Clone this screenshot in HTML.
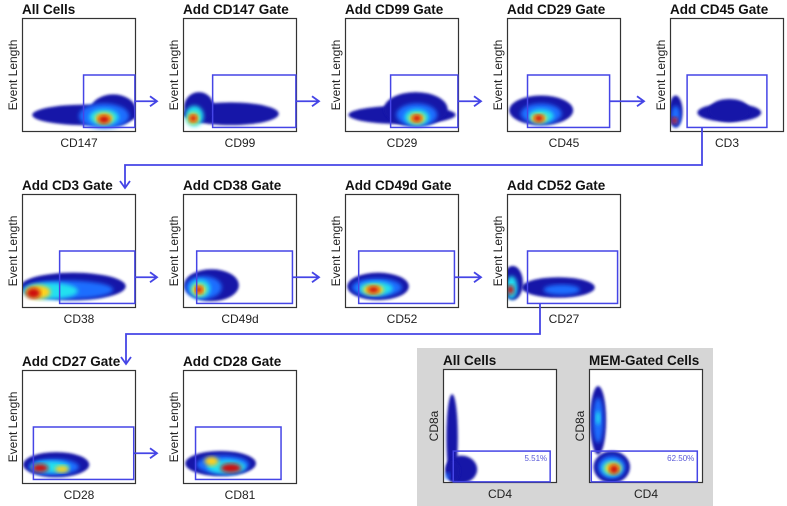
<!DOCTYPE html>
<html><head><meta charset="utf-8">
<style>
body{margin:0;background:#fff;}
svg{display:block;font-family:"Liberation Sans",Arial,sans-serif;}
</style></head>
<body>
<svg id="fig" width="787" height="506" viewBox="0 0 787 506">
<defs>
<filter id="blur" x="-20%" y="-20%" width="140%" height="140%"><feGaussianBlur stdDeviation="1.4"/></filter>
<filter id="blur2" x="-20%" y="-20%" width="140%" height="140%"><feGaussianBlur stdDeviation="2.2"/></filter>
</defs>
<rect x="417" y="348" width="296" height="158" fill="#d6d6d6"/>
</svg>
<script>
const titles=["All Cells","Add CD147 Gate","Add CD99 Gate","Add CD29 Gate","Add CD45 Gate","Add CD3 Gate","Add CD38 Gate","Add CD49d Gate","Add CD52 Gate","Add CD27 Gate","Add CD28 Gate","All Cells","MEM-Gated Cells"];
const xLabels=["CD147","CD99","CD29","CD45","CD3","CD38","CD49d","CD52","CD27","CD28","CD81","CD4","CD4"];
const yLabels=["Event Length","Event Length","Event Length","Event Length","Event Length","Event Length","Event Length","Event Length","Event Length","Event Length","Event Length","CD8a","CD8a"];
const gatePercents=["","","","","","","","","","","","5.51%","62.50%"];
// gate bounds as fraction of axis range [x0,x1,y0,y1] (y from bottom)
const gateX0=[0.54,0.26,0.40,0.18,0.15,0.33,0.12,0.12,0.18,0.10,0.11,0.09,0.02];
const gateX1=[0.99,0.99,0.99,0.90,0.85,0.99,0.96,0.96,0.97,0.98,0.86,0.94,0.95];
const gateY0=[0.04,0.04,0.04,0.04,0.04,0.04,0.04,0.04,0.04,0.04,0.04,0.01,0.01];
const gateY1=[0.50,0.50,0.50,0.50,0.50,0.50,0.50,0.50,0.50,0.50,0.50,0.28,0.28];
// density layers per panel: [cx, cy(from bottom), rx, ry, level]
const densities=[
 [[0.55,0.15,0.46,0.09,0],[0.80,0.19,0.20,0.14,0],[0.72,0.14,0.22,0.11,1],[0.72,0.13,0.13,0.07,2],[0.72,0.12,0.08,0.05,3],[0.72,0.11,0.05,0.035,4]],
 [[0.42,0.16,0.42,0.10,0],[0.14,0.22,0.13,0.13,0],[0.10,0.14,0.08,0.09,2],[0.09,0.12,0.05,0.05,3],[0.09,0.12,0.03,0.03,4]],
 [[0.50,0.15,0.47,0.08,0],[0.62,0.20,0.28,0.15,0],[0.63,0.15,0.18,0.10,1],[0.63,0.13,0.11,0.07,2],[0.63,0.12,0.07,0.045,3],[0.63,0.12,0.04,0.03,4]],
 [[0.30,0.19,0.28,0.13,0],[0.30,0.16,0.18,0.09,1],[0.30,0.14,0.11,0.06,2],[0.28,0.12,0.07,0.04,3],[0.28,0.12,0.04,0.03,4]],
 [[0.05,0.18,0.06,0.14,0],[0.05,0.14,0.04,0.09,1],[0.04,0.10,0.025,0.03,4],[0.52,0.17,0.28,0.08,0],[0.52,0.19,0.18,0.10,0]],
 [[0.45,0.19,0.46,0.12,0],[0.40,0.16,0.40,0.08,1],[0.25,0.15,0.24,0.07,2],[0.14,0.14,0.11,0.06,3],[0.10,0.13,0.06,0.045,4]],
 [[0.25,0.20,0.24,0.14,0],[0.18,0.18,0.16,0.10,1],[0.15,0.17,0.09,0.08,2],[0.14,0.16,0.06,0.05,3],[0.14,0.16,0.03,0.03,4]],
 [[0.29,0.19,0.27,0.12,0],[0.28,0.18,0.22,0.08,1],[0.27,0.17,0.15,0.06,2],[0.25,0.16,0.09,0.045,3],[0.25,0.16,0.05,0.03,4]],
 [[0.05,0.22,0.09,0.15,0],[0.04,0.18,0.05,0.10,2],[0.03,0.16,0.03,0.04,4],[0.45,0.18,0.32,0.09,0],[0.48,0.16,0.16,0.045,1]],
 [[0.30,0.17,0.29,0.11,0],[0.28,0.15,0.22,0.07,1],[0.25,0.15,0.17,0.05,2],[0.16,0.14,0.07,0.035,4],[0.35,0.13,0.06,0.03,3]],
 [[0.33,0.18,0.31,0.11,0],[0.35,0.17,0.23,0.08,1],[0.38,0.15,0.17,0.06,2],[0.42,0.14,0.09,0.04,4],[0.25,0.20,0.06,0.04,3]],
 [[0.08,0.40,0.05,0.38,0],[0.16,0.12,0.14,0.12,0],[0.09,0.10,0.06,0.09,0],[0.04,0.06,0.02,0.03,1]],
 [[0.08,0.55,0.07,0.30,0],[0.08,0.55,0.045,0.20,1],[0.08,0.57,0.02,0.06,2],[0.20,0.14,0.16,0.14,0],[0.20,0.14,0.12,0.10,1],[0.20,0.13,0.09,0.07,2],[0.21,0.13,0.07,0.05,3],[0.22,0.12,0.04,0.04,4]]
];
const levelColors=["#1414a8","#1f6eff","#22e0f0","#ffd21e","#cc0a0a"];
const boxX=[22,183,345,507,670,22,183,345,507,22,183,443,589];
const boxY=[18,18,18,18,18,194,194,194,194,370,370,369,369];
const BW=114,BH=114;
const svg=document.getElementById('fig');
const NS="http://www.w3.org/2000/svg";
function mk(tag,attrs,parent){const e=document.createElementNS(NS,tag);for(const k in attrs)e.setAttribute(k,attrs[k]);(parent||svg).appendChild(e);return e;}
function sx(i,v){return boxX[i]+v*BW;}
function sy(i,v){return boxY[i]+BH-v*BH;}
const GATE="#4545e6";
for(let i=0;i<titles.length;i++){
  const g=mk('g',{});
  
  
  mk('rect',{x:boxX[i],y:boxY[i],width:BW,height:BH,fill:'#fff'},g);
  const cp=mk('clipPath',{id:'cp'+i},g);
  mk('rect',{x:boxX[i]+1,y:boxY[i]+1,width:BW-2,height:BH-2},cp);
  const dg=mk('g',{'clip-path':'url(#cp'+i+')'},g);
  densities[i].forEach((d,j)=>{
    const e=mk('ellipse',{cx:sx(i,d[0]),cy:sy(i,d[1]),rx:d[2]*BW,ry:d[3]*BH,fill:levelColors[d[4]],filter:d[4]==0?'url(#blur)':'url(#blur2)'},dg);
    
    
  });
  const fr=mk('rect',{x:boxX[i]+0.5,y:boxY[i]+0.5,width:BW-1,height:BH-1,fill:'none',stroke:'#333','stroke-width':1.2},g);
  
  
  const gx0=sx(i,gateX0[i]),gx1=sx(i,gateX1[i]),gy0=sy(i,gateY1[i]),gy1=sy(i,gateY0[i]);
  const gr=mk('rect',{x:gx0,y:gy0,width:gx1-gx0,height:gy1-gy0,fill:'none',stroke:GATE,'stroke-width':1.5},g);
  
  
  if(gatePercents[i]){
    const pt=mk('text',{x:gx1-3,y:gy0+10,'text-anchor':'end','font-size':8,fill:'#5a5ad8'},g);
    pt.textContent=gatePercents[i];
    
    
  }
  const t=mk('text',{x:boxX[i],y:boxY[i]-4,'font-size':13.5,'font-weight':'bold',fill:'#111'},g);
  t.textContent=titles[i];
  
  
  const xl=mk('text',{x:boxX[i]+BW/2,y:boxY[i]+BH+15,'text-anchor':'middle','font-size':12,fill:'#222'},g);
  xl.textContent=xLabels[i];
  
  
  const yx=boxX[i]-5,yy=boxY[i]+BH/2;
  const yl=mk('text',{x:yx,y:yy,'text-anchor':'middle','font-size':12,fill:'#222',transform:'rotate(-90 '+yx+' '+yy+')'},g);
  yl.textContent=yLabels[i];
  
  
}
// arrows
function arrowHead(x,y,dir){
  let p;
  if(dir==='r')p=[[x-7,y-5],[x,y],[x-7,y+5]];else p=[[x-5,y-7],[x,y],[x+5,y-7]];
  const a=mk('polyline',{points:p.map(q=>q.join(',')).join(' '),fill:'none',stroke:GATE,'stroke-width':1.8});
  
  
}
function line(pts){
  const l=mk('polyline',{points:pts.map(q=>q.join(',')).join(' '),fill:'none',stroke:GATE,'stroke-width':1.8});
  
  
}
const rowArrows=[[0,1],[1,2],[2,3],[3,4],[5,6],[6,7],[7,8],[9,10]];
rowArrows.forEach(([a,b])=>{
  const x0=sx(a,gateX1[a]),x1=boxX[b]-26,y=(sy(a,gateY1[a])+sy(a,gateY0[a]))/2;
  line([[x0,y],[x1,y]]);arrowHead(x1,y,'r');
});
line([[702,sy(4,gateY0[4])],[702,165],[125,165],[125,188]]);arrowHead(125,188,'d');
line([[540,sy(8,gateY0[8])],[540,334],[126,334],[126,364]]);arrowHead(126,364,'d');
</script>
</body></html>
